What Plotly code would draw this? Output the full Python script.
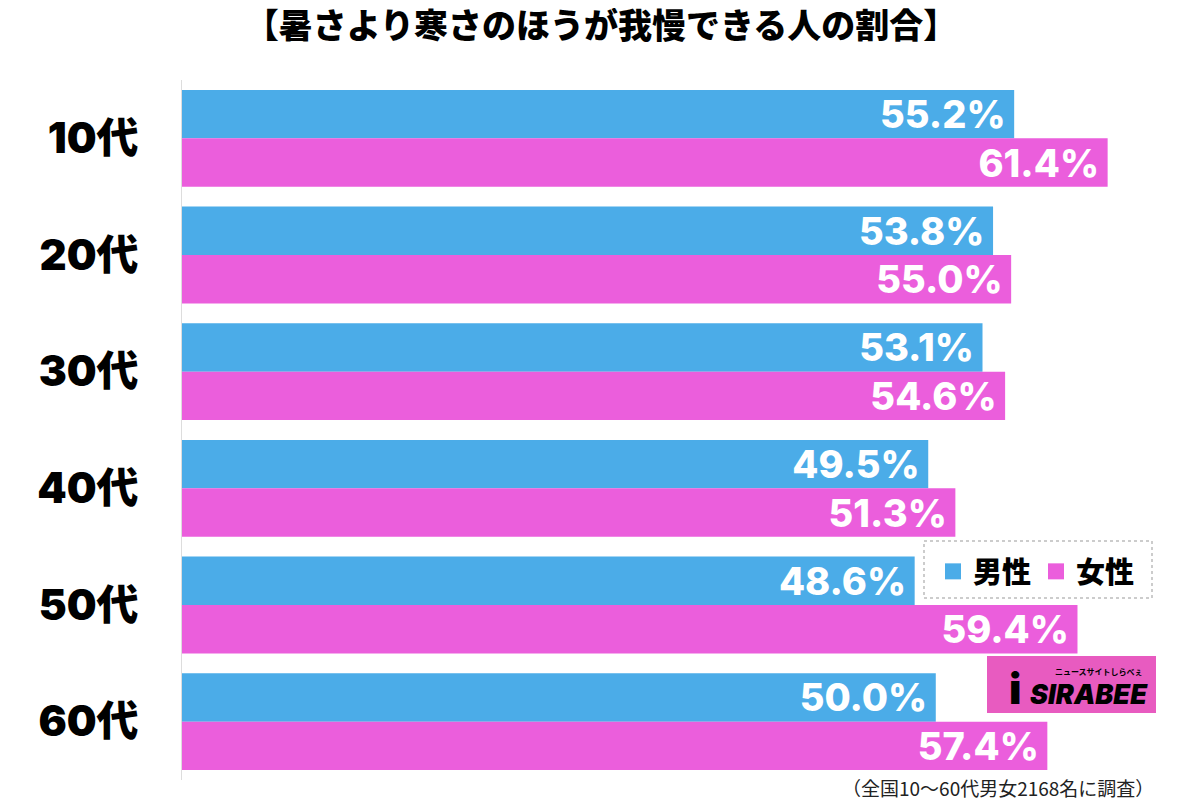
import plotly.graph_objects as go

categories = ["10代", "20代", "30代", "40代", "50代", "60代"]
male = [55.2, 53.8, 53.1, 49.5, 48.6, 50.0]
female = [61.4, 55.0, 54.6, 51.3, 59.4, 57.4]
series_names = ["男性", "女性"]
title_text = "【暑さより寒さのほうが我慢できる人の割合】"
footnote = "（全国10〜60代男女2168名に調査）"

BLUE = "#4BACE8"
PINK = "#EB5EDC"
JP = "Noto Sans CJK JP"
NUM = "Inter, Noto Sans CJK JP"


def px(sx):
    return (sx - 182) / 998


def py(sy):
    return (780 - sy) / 700


fig = go.Figure()
for name, vals, col in [(series_names[0], male, BLUE), (series_names[1], female, PINK)]:
    fig.add_trace(go.Bar(
        y=categories, x=vals, name=name, orientation="h",
        marker=dict(color=col, line=dict(width=0)),
        text=[f"{v:.1f}%\u2009" for v in vals],
        textposition="inside", insidetextanchor="end", constraintext="none",
        textfont=dict(family=NUM, size=38, color="white", weight=800),
        cliponaxis=False, showlegend=False,
    ))
# legend entries with larger square keys
for name, col in [(series_names[0], BLUE), (series_names[1], PINK)]:
    fig.add_trace(go.Scatter(
        x=[None], y=[None], mode="markers", name=name,
        marker=dict(symbol="square", size=17, color=col), showlegend=True,
    ))

fig.update_layout(
    width=1200, height=806,
    margin=dict(l=174, r=28, t=72, b=34, autoexpand=False),
    paper_bgcolor="white", plot_bgcolor="white",
    barmode="group", bargap=0.17, bargroupgap=0,
    title=dict(text=title_text, x=(601 - 8) / 1200, xref="container", xanchor="center",
               y=1 - 18 / 806, yref="container", yanchor="middle",
               font=dict(family=JP, size=34, color="black", weight=900)),
    xaxis=dict(range=[0, 66.2], showgrid=False, zeroline=False,
               showticklabels=False, showline=False, fixedrange=True, automargin=False),
    yaxis=dict(autorange="reversed", showgrid=False, zeroline=False, automargin=False,
               showline=True, linecolor="#dddddd", linewidth=1,
               ticks="", ticklabelstandoff=34,
               tickfont=dict(family=NUM, size=42, color="black", weight=900)),
    showlegend=True,
    legend=dict(orientation="h", x=px(933), xanchor="left", y=py(546), yanchor="top",
                bgcolor="rgba(0,0,0,0)", borderwidth=0,
                font=dict(family=JP, size=29, color="black", weight=900),
                itemsizing="trace", traceorder="normal", itemwidth=30),
)

# dotted legend frame
fig.add_shape(type="rect", xref="paper", yref="paper",
              x0=px(924), x1=px(1152), y0=py(598), y1=py(541),
              line=dict(color="#999999", width=1, dash="dot"), fillcolor="rgba(0,0,0,0)")

# logo box
fig.add_shape(type="rect", xref="paper", yref="paper",
              x0=px(987), x1=px(1156), y0=py(713), y1=py(656),
              line=dict(width=0), fillcolor="#E85BC0")
fig.add_annotation(xref="paper", yref="paper", x=px(1088), y=py(694),
                   xanchor="center", yanchor="middle",
                   text="<i>SIRABEE</i>", showarrow=False,
                   font=dict(family="Inter", size=27, color="black", weight=900))
fig.add_annotation(xref="paper", yref="paper", x=px(1099), y=py(671),
                   xanchor="center", yanchor="middle",
                   text="ニュースサイトしらべぇ", showarrow=False,
                   font=dict(family=JP, size=8, color="black", weight=700))
fig.add_annotation(xref="paper", yref="paper", x=px(1015), y=py(688),
                   xanchor="center", yanchor="middle",
                   text="i", showarrow=False,
                   font=dict(family="Inter", size=42, color="black", weight=900))

fig.add_annotation(xref="paper", yref="paper", x=px(1156), xanchor="right",
                   y=py(787), yanchor="middle",
                   text=footnote, showarrow=False,
                   font=dict(family=JP, size=19, color="#222222"))

fig.write_html("out.html")
